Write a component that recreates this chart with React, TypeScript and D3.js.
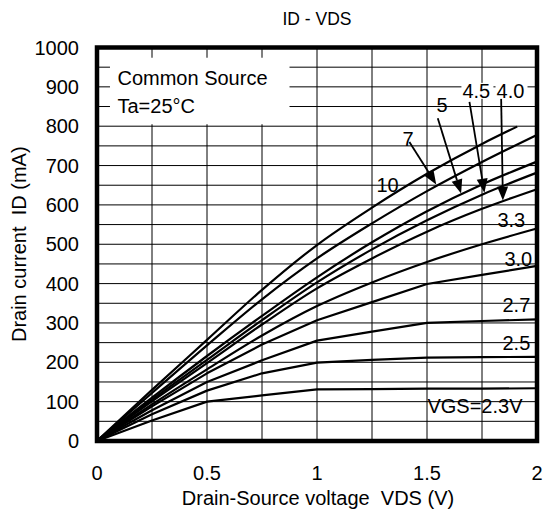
import * as d3 from "d3";

// VDS sample points (V) and drain current readings (mA) per VGS curve
const VDS = [0, 0.25, 0.5, 0.75, 1, 1.25, 1.5, 1.75, 2];
const VDS_10 = [0, 0.25, 0.5, 0.75, 1, 1.25, 1.5, 1.75, 1.91];
const ID_10 = [0, 130, 257, 384, 498, 593, 679, 755, 799];
const ID_7 = [0, 122, 243, 360, 464, 553, 635, 709, 778];
const ID_5 = [0, 110, 216, 318, 416, 505, 584, 652, 710];
const ID_45 = [0, 105, 206, 307, 403, 487, 561, 626, 682];
const ID_40 = [0, 101, 198, 296, 388, 464, 532, 590, 640];
const ID_33 = [0, 93, 182, 268, 343, 403, 455, 500, 540];
const ID_30 = [0, 88, 172, 245, 307, 353, 399, 422, 445];
const ID_27 = [0, 78, 150, 205, 255, 278, 300, 305, 309];
const ID_25 = [0, 68, 128, 172, 199, 206, 212, 213, 214];
const ID_23 = [0, 52, 100, 116, 131, 132, 133, 133, 134];

const X_TICKS = [0, 0.5, 1, 1.5, 2];
const X_TICK_LABELS = ["0", "0.5", "1", "1.5", "2"];
const Y_TICKS = [0, 100, 200, 300, 400, 500, 600, 700, 800, 900, 1000];

// curve labels: [text, vds, id, white background]
const CURVE_LABELS: [string, number, number, boolean][] = [
  ["4.5", 1.661, 872, true],
  ["4.0", 1.816, 872, true],
  ["5", 1.543, 836, false],
  ["7", 1.389, 750, false],
  ["10", 1.27, 633, false],
  ["3.3", 1.82, 544, false],
  ["3.0", 1.852, 445, false],
  ["2.7", 1.843, 328, false],
  ["2.5", 1.843, 231, false],
  ["VGS=2.3V", 1.502, 71, false],
];

// arrows: [fromVds, fromId, toVds, toId]
const ARROWS: [number, number, number, number][] = [
  [1.42, 760, 1.542, 652],
  [1.549, 820, 1.655, 629],
  [1.693, 862, 1.761, 631],
  [1.837, 871, 1.845, 611],
];

const FONT = "Arial, 'Liberation Sans', sans-serif";

export default function App() {
  const width = 544;
  const height = 523;
  const x = d3.scaleLinear().domain([0, 2]).range([97, 537]);
  const y = d3.scaleLinear().domain([0, 1000]).range([441, 47.5]);

  const series = [
    { vds: VDS_10, id: ID_10, smooth: true },
    { vds: VDS, id: ID_7, smooth: true },
    { vds: VDS, id: ID_5, smooth: true },
    { vds: VDS, id: ID_45, smooth: true },
    { vds: VDS, id: ID_40, smooth: true },
    { vds: VDS, id: ID_33, smooth: true },
    { vds: VDS, id: ID_30, smooth: false },
    { vds: VDS, id: ID_27, smooth: false },
    { vds: VDS, id: ID_25, smooth: false },
    { vds: VDS, id: ID_23, smooth: false },
  ];

  const smoothLine = d3
    .line<[number, number]>()
    .x((d) => x(d[0]))
    .y((d) => y(d[1]))
    .curve(d3.curveMonotoneX);
  const straightLine = d3
    .line<[number, number]>()
    .x((d) => x(d[0]))
    .y((d) => y(d[1]));

  const vGrid = d3.range(0.25, 2, 0.25);
  const hGrid = d3.range(50, 1000, 50);

  return (
    <svg
      width={width}
      height={height}
      style={{ position: "absolute", left: 0, top: 0, background: "#fff" }}
      fontFamily={FONT}
      fontSize={20}
    >
      <rect width={width} height={height} fill="#fff" />
      <text x={317} y={25} textAnchor="middle" fontSize={17.5}>
        ID - VDS
      </text>

      {vGrid.map((v) => (
        <line key={"v" + v} x1={x(v)} x2={x(v)} y1={y(0)} y2={y(1000)} stroke="#000" strokeWidth={1} />
      ))}
      {hGrid.map((v) => (
        <line key={"h" + v} x1={x(0)} x2={x(2)} y1={y(v)} y2={y(v)} stroke="#000" strokeWidth={1} />
      ))}

      {/* legend box */}
      <rect x={x(0.059)} y={y(974)} width={x(0.875) - x(0.059)} height={y(805) - y(974)} fill="#fff" />
      <text x={x(0.093)} y={y(905)}>Common Source</text>
      <text x={x(0.093)} y={y(834)}>Ta=25°C</text>

      {series.map((s, i) => {
        const pts = s.vds.map((v, j) => [v, s.id[j]] as [number, number]);
        return (
          <path
            key={i}
            d={(s.smooth ? smoothLine(pts) : straightLine(pts)) || ""}
            fill="none"
            stroke="#000"
            strokeWidth={2.2}
            strokeLinejoin="round"
          />
        );
      })}

      {ARROWS.map(([v0, i0, v1, i1], k) => {
        const x0 = x(v0), y0 = y(i0), x1 = x(v1), y1 = y(i1);
        const ang = Math.atan2(y1 - y0, x1 - x0);
        const len = 14, hw = 5.5;
        const bx = x1 - len * Math.cos(ang), by = y1 - len * Math.sin(ang);
        const px = -Math.sin(ang) * hw, py = Math.cos(ang) * hw;
        return (
          <g key={"a" + k}>
            <line x1={x0} y1={y0} x2={bx} y2={by} stroke="#000" strokeWidth={1.8} />
            <path d={`M${x1},${y1}L${bx + px},${by + py}L${bx - px},${by - py}Z`} fill="#000" />
          </g>
        );
      })}

      {CURVE_LABELS.map(([t, v, i, bg]) => (
        <g key={t}>
          {bg && <rect x={x(v) - 1} y={y(i) - 15} width={t.length * 10 + 2} height={16} fill="#fff" />}
          <text x={x(v)} y={y(i)}>
            {t}
          </text>
        </g>
      ))}

      <rect x={x(0)} y={y(1000)} width={x(2) - x(0)} height={y(0) - y(1000)} fill="none" stroke="#000" strokeWidth={4.5} />

      {X_TICKS.map((v, i) => (
        <text key={"xt" + v} x={x(v)} y={480} textAnchor="middle">
          {X_TICK_LABELS[i]}
        </text>
      ))}
      {Y_TICKS.map((v) => (
        <text key={"yt" + v} x={79} y={y(v)} dy="0.35em" textAnchor="end">
          {v}
        </text>
      ))}

      <text x={318} y={505} textAnchor="middle">
        {"Drain-Source voltage\u00a0 VDS (V)"}
      </text>
      <text transform={`translate(26,${(y(0) + y(1000)) / 2}) rotate(-90)`} textAnchor="middle">
        {"Drain current\u00a0 ID (mA)"}
      </text>
    </svg>
  );
}
